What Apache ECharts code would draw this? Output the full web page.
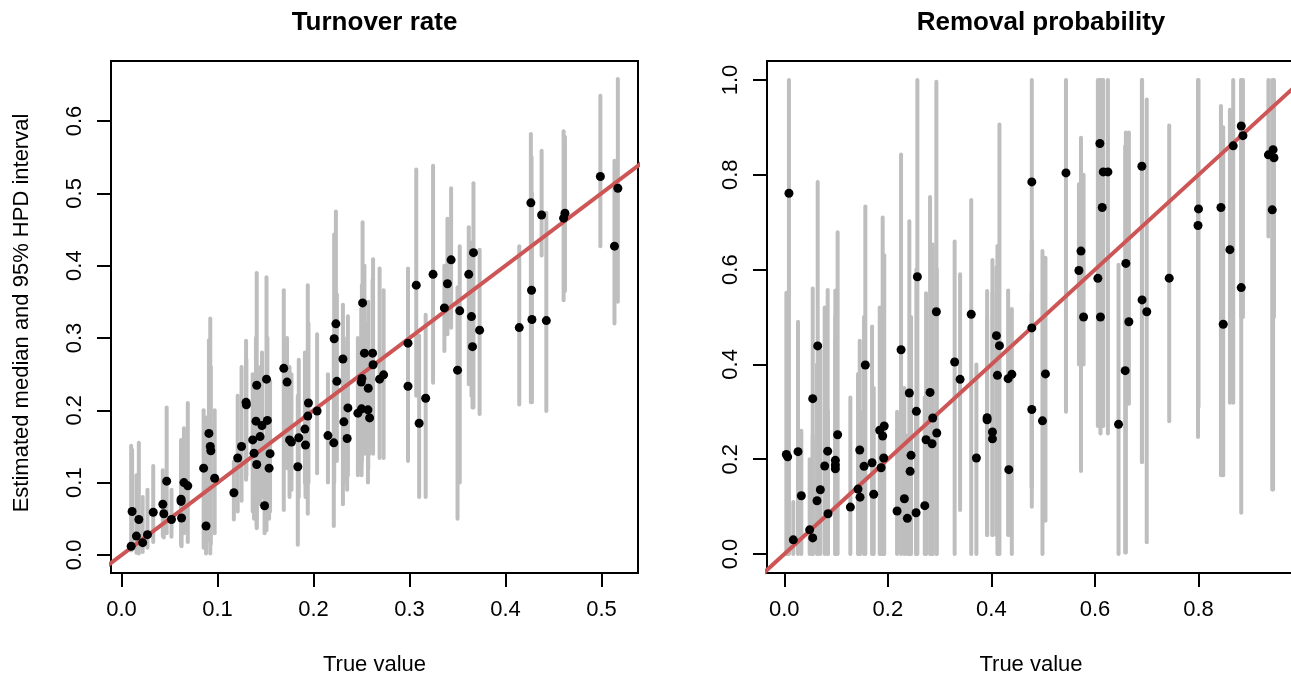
<!DOCTYPE html>
<html><head><meta charset="utf-8">
<script src="https://cdn.jsdelivr.net/npm/echarts@6/dist/echarts.min.js"></script>
<style>html,body{margin:0;padding:0;background:#fff}#c{width:1291px;height:675px}</style>
</head><body><div id="c"></div>
<script>
// ---- Turnover rate panel ----
const turnoverTrue = [0.010,0.011,0.0155,0.018,0.022,0.027,0.033,0.043,0.044,0.047,0.052,0.062,0.062,0.0625,0.065,0.069,0.088,0.0855,0.091,0.0924,0.093,0.097,0.117,0.121,0.125,0.1297,0.130,0.1408,0.1366,0.138,0.1408,0.140,0.1443,0.1463,0.151,0.1519,0.1547,0.1537,0.149,0.169,0.1724,0.175,0.177,0.1836,0.1846,0.191,0.1916,0.194,0.1947,0.2037,0.215,0.2211,0.2215,0.2233,0.2243,0.2306,0.2316,0.2358,0.235,0.2462,0.2504,0.2497,0.2511,0.250,0.253,0.257,0.2567,0.2584,0.262,0.2615,0.2688,0.273,0.2984,0.2984,0.307,0.310,0.3168,0.3245,0.3363,0.3395,0.3433,0.3523,0.350,0.3617,0.3666,0.3645,0.3656,0.373,0.4143,0.4264,0.4271,0.4275,0.4376,0.4425,0.4605,0.4619,0.4988,0.517,0.5135];
const turnoverMedian = [0.012,0.060,0.026,0.049,0.017,0.028,0.059,0.070,0.057,0.102,0.049,0.077,0.074,0.051,0.100,0.0955,0.040,0.120,0.168,0.150,0.144,0.106,0.086,0.134,0.150,0.211,0.2075,0.2347,0.159,0.1406,0.125,0.185,0.1636,0.179,0.243,0.186,0.140,0.120,0.068,0.258,0.239,0.159,0.156,0.122,0.162,0.174,0.152,0.192,0.210,0.199,0.165,0.155,0.299,0.3195,0.240,0.271,0.184,0.2033,0.161,0.196,0.2439,0.239,0.3485,0.202,0.279,0.2305,0.2006,0.1895,0.263,0.279,0.243,0.249,0.2928,0.2333,0.373,0.182,0.2167,0.388,0.3416,0.375,0.408,0.3375,0.2555,0.388,0.418,0.3296,0.288,0.3108,0.3144,0.4869,0.366,0.3255,0.470,0.324,0.4657,0.4726,0.5233,0.507,0.427];
const turnoverLower = [0.006,0.008,0.003,0.002,0.004,0.010,0.018,0.026,0.024,0.030,0.025,0.014,0.020,0.012,0.030,0.018,0.002,0.010,0.020,0.002,0.015,0.030,0.049,0.060,0.075,0.104,0.110,0.037,0.060,0.050,0.040,0.080,0.070,0.080,0.034,0.090,0.060,0.050,0.030,0.062,0.120,0.080,0.090,0.014,0.080,0.100,0.080,0.057,0.100,0.113,0.100,0.040,0.100,0.150,0.130,0.070,0.100,0.110,0.090,0.110,0.130,0.120,0.170,0.110,0.140,0.120,0.100,0.140,0.140,0.160,0.134,0.134,0.172,0.130,0.220,0.080,0.080,0.238,0.282,0.305,0.314,0.100,0.050,0.236,0.204,0.220,0.204,0.195,0.208,0.211,0.220,0.211,0.414,0.199,0.352,0.365,0.427,0.350,0.320];
const turnoverUpper = [0.151,0.145,0.110,0.155,0.080,0.090,0.123,0.117,0.100,0.204,0.090,0.159,0.140,0.120,0.175,0.210,0.190,0.200,0.297,0.327,0.260,0.200,0.129,0.220,0.260,0.296,0.270,0.390,0.250,0.230,0.220,0.300,0.260,0.280,0.384,0.300,0.240,0.210,0.160,0.366,0.300,0.260,0.250,0.220,0.270,0.280,0.240,0.373,0.320,0.305,0.250,0.300,0.443,0.475,0.360,0.346,0.300,0.330,0.280,0.300,0.373,0.340,0.460,0.300,0.400,0.350,0.320,0.280,0.409,0.380,0.396,0.366,0.396,0.330,0.533,0.303,0.332,0.538,0.400,0.465,0.507,0.427,0.370,0.453,0.514,0.432,0.400,0.422,0.427,0.582,0.550,0.500,0.559,0.473,0.586,0.578,0.635,0.658,0.545];
const turnoverXTicks = [0.0,0.1,0.2,0.3,0.4,0.5];
const turnoverYTicks = [0.0,0.1,0.2,0.3,0.4,0.5,0.6];

// ---- Removal probability panel ----
const removalTrue = [0.004,0.0065,0.009,0.0174,0.0265,0.0329,0.049,0.0549,0.0549,0.0645,0.0632,0.0696,0.078,0.0838,0.0844,0.0986,0.0986,0.0986,0.103,0.1276,0.1424,0.1463,0.1457,0.154,0.1565,0.1695,0.1727,0.1843,0.193,0.190,0.192,0.187,0.2178,0.2255,0.2319,0.2377,0.2415,0.2448,0.243,0.2551,0.2545,0.257,0.2713,0.2738,0.2815,0.2867,0.2854,0.2945,0.2937,0.329,0.3395,0.361,0.371,0.3917,0.3917,0.402,0.402,0.4097,0.4155,0.4116,0.4323,0.4394,0.4336,0.478,0.478,0.478,0.5044,0.4986,0.544,0.573,0.569,0.578,0.6095,0.616,0.625,0.614,0.6056,0.6106,0.6455,0.6584,0.6655,0.6597,0.6906,0.691,0.700,0.7434,0.800,0.799,0.8433,0.8477,0.8606,0.867,0.8825,0.8825,0.8858,0.935,0.944,0.9457,0.9424];
const removalMedian = [0.210,0.205,0.761,0.030,0.216,0.123,0.051,0.034,0.3277,0.439,0.1125,0.1357,0.1857,0.217,0.085,0.1977,0.188,0.180,0.2517,0.099,0.137,0.120,0.2194,0.185,0.3987,0.1926,0.126,0.261,0.270,0.249,0.2025,0.182,0.0907,0.431,0.1167,0.0753,0.3397,0.2082,0.1745,0.301,0.0872,0.585,0.102,0.241,0.341,0.287,0.2327,0.2553,0.511,0.405,0.3685,0.5057,0.2025,0.2876,0.283,0.2574,0.243,0.4606,0.4395,0.377,0.370,0.379,0.178,0.785,0.477,0.305,0.380,0.281,0.804,0.639,0.598,0.500,0.866,0.806,0.806,0.731,0.5816,0.500,0.2736,0.3868,0.490,0.613,0.818,0.536,0.511,0.582,0.728,0.693,0.731,0.4846,0.642,0.861,0.562,0.903,0.8825,0.842,0.853,0.836,0.726];
const removalLower = [0.0,0.0,0.0,0.0,0.0,0.0,0.0,0.0,0.0,0.0,0.0,0.0,0.0,0.0,0.0,0.0,0.0,0.0,0.0,0.0,0.0,0.0,0.0,0.0,0.0,0.0,0.0,0.0,0.0,0.0,0.0,0.0,0.0,0.0,0.0,0.0,0.0,0.0,0.0,0.0,0.0,0.0,0.0,0.0,0.0,0.0,0.0,0.0,0.0,0.0,0.093,0.0,0.0,0.04,0.04,0.04,0.04,0.04,0.0,0.0,0.04,0.0,0.04,0.14,0.14,0.10,0.07,0.0,0.30,0.175,0.40,0.40,0.27,0.27,0.254,0.27,0.27,0.254,0.0,0.003,0.317,0.003,0.194,0.194,0.025,0.28,0.31,0.247,0.166,0.166,0.319,0.319,0.087,0.50,0.50,0.67,0.136,0.50,0.136];
const removalUpper = [0.551,0.50,1.0,0.11,0.49,0.26,0.20,0.25,0.56,0.785,0.40,0.43,0.52,0.557,0.30,0.556,0.50,0.45,0.679,0.33,0.38,0.30,0.45,0.50,0.733,0.48,0.35,0.52,0.63,0.71,0.44,0.42,0.30,0.843,0.35,0.25,0.702,0.50,0.45,0.60,0.30,1.0,0.33,0.55,0.753,0.653,0.50,0.60,0.996,0.659,0.59,0.747,0.40,0.555,0.50,0.62,0.55,0.605,0.906,0.65,0.556,0.517,0.40,1.0,0.66,0.55,0.625,0.639,1.0,0.878,0.78,0.80,1.0,1.0,1.0,1.0,1.0,1.0,0.61,0.86,0.889,0.889,1.0,1.0,0.959,0.904,1.0,1.0,0.945,0.90,0.937,1.0,1.0,1.0,1.0,1.0,1.0,1.0,1.0];
const removalXTicks = [0.0,0.2,0.4,0.6,0.8];
const removalYTicks = [0.0,0.2,0.4,0.6,0.8,1.0];

const FONT = "'Liberation Sans', Arial, Helvetica, sans-serif";

function zip3(a,b,c){ return a.map((v,i)=>[v,b[i],c[i]]); }
function zip2(a,b){ return a.map((v,i)=>[v,b[i]]); }

function xAx(gi,min,max,ticks,line){
  return {type:'value',gridIndex:gi,min,max,position:'bottom',
    axisLine:{show:!!line,onZero:false,lineStyle:{color:'#000',width:2}},splitLine:{show:false},
    axisTick:{show:true,inside:false,length:14,customValues:ticks,lineStyle:{color:'#000',width:2}},
    axisLabel:{customValues:ticks,formatter:v=>v.toFixed(1),color:'#000',fontSize:22,fontFamily:FONT,margin:26}};
}
function yAx(gi,min,max,ticks,line){
  return {type:'value',gridIndex:gi,min,max,position:'left',
    axisLine:{show:!!line,onZero:false,lineStyle:{color:'#000',width:2}},splitLine:{show:false},
    axisTick:{show:true,inside:false,length:14,customValues:ticks,lineStyle:{color:'#000',width:2}},
    axisLabel:{customValues:ticks,formatter:v=>v.toFixed(1),color:'#000',fontSize:22,fontFamily:FONT,margin:25,rotate:90}};
}
function intervals(i,lo,hi,x){
  return {type:'custom',xAxisIndex:i,yAxisIndex:i,silent:true,z:1,
    data:zip3(x,lo,hi),encode:{x:0,y:[1,2]},
    renderItem:(p,api)=>{
      const a=api.coord([api.value(0),api.value(1)]);
      const b=api.coord([api.value(0),api.value(2)]);
      return {type:'line',shape:{x1:a[0],y1:a[1],x2:b[0],y2:b[1]},
        style:{stroke:'#BEBEBE',lineWidth:4,lineCap:'round'}};
    }};
}
function refLine(i){
  return {type:'line',xAxisIndex:i,yAxisIndex:i,z:2,silent:true,showSymbol:false,clip:true,
    data:[[-1,-1],[2,2]],lineStyle:{color:'#CD5555',width:4}};
}
function pts(i,x,y){
  return {type:'scatter',xAxisIndex:i,yAxisIndex:i,z:3,silent:true,symbolSize:9,
    itemStyle:{color:'#000',opacity:1},data:zip2(x,y)};
}

const chart = echarts.init(document.getElementById('c'),null,{renderer:'canvas'});
const rightTop = {type:'value',gridIndex:1,min:-0.0334,max:0.9786,position:'top',
  axisLine:{show:true,onZero:false,lineStyle:{color:'#000',width:2}},axisTick:{show:false},axisLabel:{show:false},splitLine:{show:false}};
chart.setOption({
  animation:false,
  backgroundColor:'#fff',
  grid:[
    {left:111,top:61,width:527,height:512,show:true,borderColor:'#000',borderWidth:2,backgroundColor:'transparent'},
    {left:767,top:61,width:524,height:512,show:false}
  ],
  xAxis:[xAx(0,-0.011,0.538,turnoverXTicks,false), xAx(1,-0.0334,0.9786,removalXTicks,true), rightTop],
  yAxis:[yAx(0,-0.025,0.683,turnoverYTicks,false), yAx(1,-0.04,1.04,removalYTicks,true)],
  series:[
    intervals(0,turnoverLower,turnoverUpper,turnoverTrue), refLine(0), pts(0,turnoverTrue,turnoverMedian),
    intervals(1,removalLower,removalUpper,removalTrue), refLine(1), pts(1,removalTrue,removalMedian)
  ],
  graphic:[
    {type:'text',x:374.5,y:23,style:{text:'Turnover rate',font:"bold 26px "+FONT,fill:'#000',textAlign:'center',textVerticalAlign:'middle'}},
    {type:'text',x:1041,y:23,style:{text:'Removal probability',font:"bold 26px "+FONT,fill:'#000',textAlign:'center',textVerticalAlign:'middle'}},
    {type:'text',x:374.5,y:665,style:{text:'True value',font:"22px "+FONT,fill:'#000',textAlign:'center',textVerticalAlign:'middle'}},
    {type:'text',x:1031,y:665,style:{text:'True value',font:"22px "+FONT,fill:'#000',textAlign:'center',textVerticalAlign:'middle'}},
    {type:'text',x:22,y:313,rotation:Math.PI/2,style:{text:'Estimated median and 95% HPD interval',font:"22px "+FONT,fill:'#000',textAlign:'center',textVerticalAlign:'middle'}}
  ]
});
</script></body></html>
